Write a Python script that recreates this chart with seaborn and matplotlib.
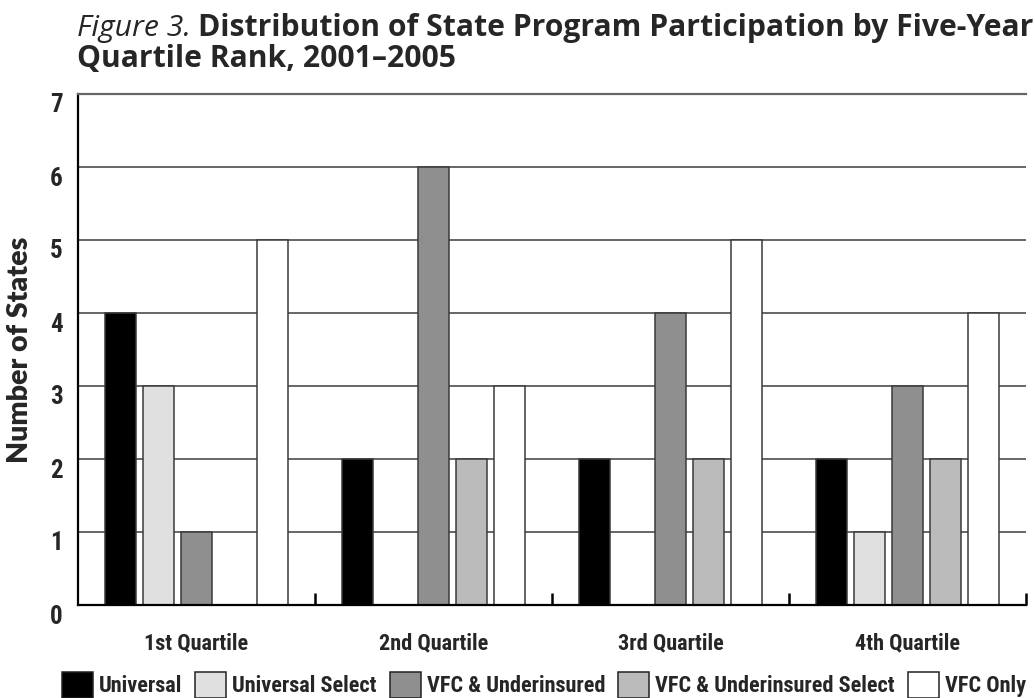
import matplotlib
matplotlib.use('Agg')
import pandas as pd
import seaborn as sns
import matplotlib.pyplot as plt
import matplotlib.patches as mpatches
import matplotlib.transforms as mtransforms
from matplotlib import font_manager

quartiles = ['1st Quartile', '2nd Quartile', '3rd Quartile', '4th Quartile']
programs = ['Universal', 'Universal Select', 'VFC & Underinsured',
            'VFC & Underinsured Select', 'VFC Only']
universal = [4, 2, 2, 2]
universal_select = [3, 0, 0, 1]
vfc_underinsured = [1, 6, 4, 3]
vfc_underinsured_select = [0, 2, 2, 2]
vfc_only = [5, 3, 5, 4]
colors = ['#000000', '#e0e0e0', '#8f8f8f', '#bbbbbb', '#ffffff']

df = pd.DataFrame({
    'Quartile': quartiles,
    'Universal': universal,
    'Universal Select': universal_select,
    'VFC & Underinsured': vfc_underinsured,
    'VFC & Underinsured Select': vfc_underinsured_select,
    'VFC Only': vfc_only,
})
long = df.melt(id_vars='Quartile', var_name='Program', value_name='States')

sns.set_theme(style='white')

# pick a narrow bold face for tick and legend text, if one is around
fonts = font_manager.fontManager.ttflist
names = {f.name for f in fonts}
if 'Roboto Condensed' in names:
    narrow, stretch, nsize = 'Roboto Condensed', 'normal', 1.0
elif any(f.name == 'DejaVu Sans' and f.stretch == 'condensed' for f in fonts):
    narrow, stretch, nsize = 'DejaVu Sans', 'condensed', 0.95
else:
    narrow, stretch, nsize = 'Lato', 'normal', 0.9
plt.rcParams['font.family'] = [narrow, 'DejaVu Sans']
plt.rcParams['font.stretch'] = stretch
title_font = ['Open Sans', 'Lato', 'DejaVu Sans']
label_font = ['Lato', 'DejaVu Sans']

W, H = 1035, 698
fig = plt.figure(figsize=(W / 100, H / 100), dpi=100)
ax = fig.add_axes([78 / W, 1 - 605 / H, 948 / W, 511 / H])
ax.set_axisbelow(True)

sns.barplot(data=long, x='Quartile', y='States', hue='Program',
            order=quartiles, hue_order=programs,
            palette=dict(zip(programs, colors)),
            width=0.8, gap=0.18, edgecolor='#3a3a3a', linewidth=1.1,
            legend=False, ax=ax)

ax.set_xlim(-0.5, 3.5)
ax.set_ylim(0, 7)
ax.set_yticks(range(0, 8))
ax.yaxis.grid(True, color='#666666', linewidth=1.4)
ax.xaxis.grid(False)

for side in ['left', 'bottom']:
    ax.spines[side].set_color('black')
    ax.spines[side].set_linewidth(1.6)
ax.spines['top'].set_color('#666666')
ax.spines['top'].set_linewidth(1.6)
ax.spines['right'].set_visible(False)

ax.set_xticks([0.5, 1.5, 2.5, 3.5], minor=True)
ax.tick_params(axis='x', which='minor', direction='in', length=9, width=1.8,
               color='black', bottom=True)
ax.tick_params(axis='x', which='major', length=0, pad=20, labelsize=16 * nsize)
ax.tick_params(axis='y', length=0, pad=11, labelsize=18 * nsize)
# y numbers sit a little below their gridlines in the original
shift = mtransforms.ScaledTranslation(0, -9 / 100, fig.dpi_scale_trans)
for lab in ax.get_yticklabels():
    lab.set_fontweight('bold')
    lab.set_transform(lab.get_transform() + shift)
for lab in ax.get_xticklabels():
    lab.set_fontweight('bold')

ax.set_xlabel('')
ax.set_ylabel('Number of States', fontsize=20.5, fontweight='heavy',
              family=label_font, stretch='normal')
ax.yaxis.set_label_coords(-0.047, 0.5)

# title: italic figure number followed by bold caption, sized to span the width
renderer = fig.canvas.get_renderer()
size = 20
t1 = fig.text(77 / W, 1 - 36 / H, 'Figure 3.', family=title_font,
              stretch='normal', style='italic', fontsize=size,
              va='baseline', ha='left')
t2 = fig.text(0, 1 - 36 / H,
              'Distribution of State Program Participation by Five-Year',
              family=title_font, stretch='normal', fontweight='bold',
              fontsize=size, va='baseline', ha='left')
t3 = fig.text(77 / W, 1 - 67 / H, 'Quartile Rank, 2001\u20132005',
              family=title_font, stretch='normal', fontweight='bold',
              fontsize=size, va='baseline', ha='left')
w1 = t1.get_window_extent(renderer).width
w2 = t2.get_window_extent(renderer).width
size = size * (1033 - 77) / (w1 + w2 + 7)
for t in (t1, t2, t3):
    t.set_fontsize(size)
w1 = t1.get_window_extent(renderer).width
t2.set_x((77 + w1 + 7) / W)

handles = [mpatches.Patch(facecolor=c, edgecolor='#222222', linewidth=1.1)
           for c in colors]
leg = fig.legend(handles, programs, loc='lower left',
                 bbox_to_anchor=(62 / W, 0.0), ncol=5, frameon=False,
                 handlelength=1.4, handleheight=1.45, handletextpad=0.25,
                 columnspacing=0.6, borderpad=0, borderaxespad=0,
                 prop={'size': 16 * nsize, 'weight': 'bold',
                       'family': [narrow, 'DejaVu Sans'], 'stretch': stretch})

fig.savefig('out.png', dpi=100, facecolor='white')
